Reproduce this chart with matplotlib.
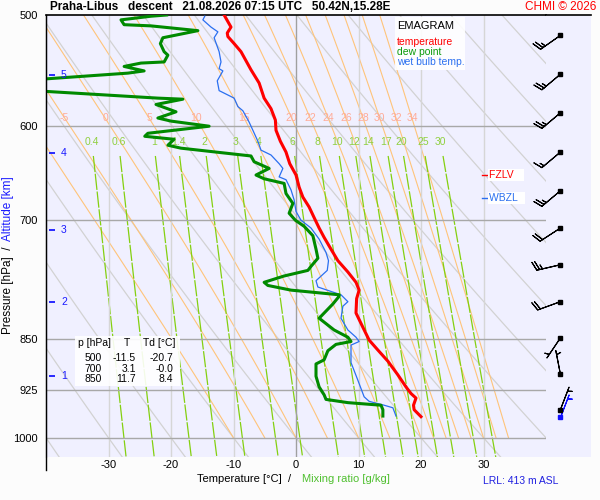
import numpy as np
import matplotlib.pyplot as plt
from matplotlib.patches import Rectangle
from matplotlib.lines import Line2D

plt.rcParams['font.family'] = ['Liberation Sans', 'DejaVu Sans']
plt.rcParams['axes.unicode_minus'] = False

# sounding
t_p = [500, 510, 515, 518, 524, 531, 547, 559, 573, 583, 594, 604, 615, 626, 638, 650, 663, 674,
       685, 697, 709, 720, 734, 748, 762, 775, 785, 796, 815, 829, 852, 866, 882, 902, 920, 930,
       937, 948, 955, 966]
t_val = [-11.5, -10.4, -11.0, -10.9, -9.9, -8.8, -7.2, -5.9, -5.1, -4.0, -3.3, -3.2, -2.5, -1.6,
         -1.0, 0.0, 0.5, 1.1, 2.1, 2.9, 3.7, 4.5, 5.6, 6.7, 8.3, 9.6, 10.1, 9.7, 9.6, 10.4, 11.7,
         13.1, 14.7, 16.3, 17.6, 18.4, 19.2, 18.8, 18.9, 20.0]

td_p = [500, 501, 504, 508, 509, 513, 519, 524, 531, 534, 540, 541, 544, 548, 550, 555, 557, 565,
        567, 573, 574, 579, 586, 592, 595, 600, 607, 610, 613, 619, 622, 630, 636, 643, 650, 654,
        659, 670, 681, 692, 700, 707, 718, 734, 745, 755, 760, 767, 775, 779, 785, 791, 793, 803,
        822, 838, 848, 854, 858, 867, 880, 886, 904, 920, 932, 939, 944, 948, 955, 965]
td_val = [-20.7, -23.2, -28.0, -27.5, -23.2, -15.7, -21.3, -21.7, -21.1, -20.5, -21.1, -24.8,
          -27.5, -24.3, -26.9, -39.5, -45.0, -45.0, -39.2, -22.1, -18.1, -22.4, -19.2, -22.1,
          -20.0, -13.9, -23.7, -24.2, -19.5, -20.5, -18.4, -7.2, -6.7, -4.3, -6.4, -5.1, -1.9,
          -1.6, -0.5, -1.1, -0.1, 1.3, 2.7, 3.2, 3.5, 2.4, 1.9, -1.9, -5.1, -4.5, -0.8, 6.9, 6.9,
          5.9, 3.7, 6.1, 8.3, 8.8, 6.4, 5.1, 4.5, 3.2, 3.2, 3.7, 4.5, 4.8, 8.3, 13.6, 13.9, 13.9]

tw_p = [501, 504, 510, 514, 519, 531, 540, 546, 548, 557, 566, 573, 581, 585, 596, 604, 615, 624,
        629, 638, 643, 652, 655, 666, 677, 690, 700, 709, 722, 738, 748, 760, 773, 781, 791, 800,
        806, 822, 838, 848, 854, 859, 884, 910, 935, 942, 948, 952, 965]
tw_val = [-14.6, -14.9, -13.6, -12.5, -13.1, -12.3, -12.0, -12.3, -11.7, -12.6, -12.3, -9.9, -9.3,
          -8.5, -7.5, -6.9, -6.1, -5.6, -4.0, -2.7, -2.1, -2.7, -1.6, -0.8, -0.3, 0.0, 0.8, 2.4,
          3.7, 4.8, 5.2, 5.0, 3.2, 3.5, 7.2, 8.3, 7.5, 7.2, 8.3, 9.6, 10.1, 8.8, 8.8, 9.9, 10.9,
          11.7, 14.1, 15.5, 16.0]

# wind (direction from, speed)
wind_p = [517, 551, 587, 626, 667, 709, 753, 800, 849, 901, 955]
wind_dir = [235, 230, 230, 230, 230, 237, 257, 250, 214, 349, 21]
wind_spd = [25, 25, 25, 15, 25, 20, 25, 20, 5, 5, 5]
sfc_p, sfc_dir, sfc_spd = 966, 21, 5

tab_p = [500, 700, 850]
tab_t = [-11.5, 3.1, 11.7]
tab_td = [-20.7, -0.0, 8.4]

alt_km = [1, 2, 3, 4, 5]
alt_p = [904, 801, 711, 627, 552]

fzlv_p = 650
wbzl_p = 675

p_grid = [600, 700, 850, 925, 1000]
theta_dry = np.arange(-40, 120, 10)
theta_w = [-10, -5, 0, 5, 10, 15, 20, 22, 24, 26, 28, 30, 32, 34]
mix_w = [0.4, 0.6, 1, 1.4, 2, 3, 4, 6, 8, 10, 12, 14, 17, 20, 25, 30]


def sat_vp(tk):
    return 6.112 * np.exp(17.67 * (tk - 273.15) / (tk - 29.65))


def moist_slope(tk, p):
    e = sat_vp(tk)
    rs = 0.622 * e / (p - e)
    return (287.04 * tk + 2.501e6 * rs) / (1005.7 + 2.501e6**2 * rs * 0.622 / (287.04 * tk * tk)) / p


def moist_adiabats(tw, pl):
    tk = np.array(tw, dtype=float) + 273.15
    out = [tk]
    for p0, p1 in zip(pl[:-1], pl[1:]):
        h = p1 - p0
        k1 = moist_slope(tk, p0)
        k2 = moist_slope(tk + h * k1 / 2, p0 + h / 2)
        k3 = moist_slope(tk + h * k2 / 2, p0 + h / 2)
        k4 = moist_slope(tk + h * k3, p1)
        tk = tk + h * (k1 + 2 * k2 + 2 * k3 + k4) / 6
        out.append(tk)
    return np.array(out) - 273.15


def mixing_t(w, p):
    e = w * p / (622.0 + w)
    a = np.log(e / 6.112)
    return 243.5 * a / (17.67 - a)


W, H = 600, 500


def box(x0, y0, x1, y1):
    return [x0 / W, 1 - y1 / H, (x1 - x0) / W, (y1 - y0) / H]


def fx(px):
    return px / W


def fy(py):
    return 1 - py / H


bg = '#f0f0ff'
fig = plt.figure(figsize=(6, 5), dpi=100, facecolor='#fcfcfc')
ax = fig.add_axes(box(46, 15, 546, 457))
axb = fig.add_axes(box(546, 15, 591, 457), sharey=ax)
for a in (ax, axb):
    a.set_facecolor(bg)
    for s in a.spines.values():
        s.set_visible(False)
    a.spines['top'].set_visible(True)
    a.spines['top'].set_linewidth(1.2)
ax.spines['left'].set_visible(True)

ax.set_yscale('log')
ax.set_ylim(1032, 500)
ax.set_xlim(-40, 40)
ax.set_yticks([500, 600, 700, 850, 925, 1000])
ax.set_yticklabels(['500', '600', '700', '850', '925', '1000'])
ax.yaxis.set_minor_locator(plt.NullLocator())
ax.set_xticks([-30, -20, -10, 0, 10, 20, 30])
ax.tick_params(axis='y', length=0, pad=6, labelsize=8)
ax.tick_params(axis='x', length=0, pad=2, labelsize=8)
axb.tick_params(left=False, labelleft=False, bottom=False, labelbottom=False)
axb.set_xlim(0, 1)

# isotherms and isobars
for t in [-30, -20, -10, 10, 20, 30]:
    ax.axvline(t, color='#d6d6d6', lw=1, zorder=1.5)
ax.axvline(0, color='#a0a0a0', lw=1, zorder=1.5)
ax.hlines(p_grid, -40, 40, color='#a8a8a8', lw=1, zorder=1.5)

# dry adiabats
pd_ = np.linspace(500, 1032, 120)
for th in theta_dry:
    ax.plot((th + 273.15) * (pd_ / 1000) ** 0.2857 - 273.15, pd_, color='#d2d2d2', lw=0.9, zorder=1)

# moist adiabats
pm = np.linspace(1000, 500, 251)
tm = moist_adiabats(theta_w, pm)
for i, tw in enumerate(theta_w):
    ax.plot(tm[:, i], pm, color='#ffc47a', lw=0.8, zorder=1.1)
    if tw >= -5:
        tl = np.interp(592, pm[::-1], tm[::-1, i])
        ax.text(tl, 592, str(tw), color='#ffab98', fontsize=7.5, ha='center', va='center', zorder=2)

# mixing ratio lines
pw = np.linspace(630, 1032, 60)
for w in mix_w:
    ax.plot(mixing_t(w, pw), pw, color='#84d010', lw=0.9, ls=(0, (13, 1.3)), zorder=1.2)
    ax.text(mixing_t(w, 616), 616, f'{w:g}', color='#90d040', fontsize=7.5, ha='center',
            va='center', zorder=2)

# profiles
ax.plot(tw_val, tw_p, color='#2a6ff0', lw=0.9, zorder=3)
ax.plot(td_val, td_p, color='#008a00', lw=2.2, zorder=3.1)
ax.plot(t_val, t_p, color='#ff0000', lw=2.2, zorder=3.2)

# altitude marks
ax.plot(np.full(len(alt_p), -39.0), alt_p, ls='none', marker='_', ms=5, mew=1.3, color='#1a1aff',
        zorder=4, clip_on=False)
for km, p in zip(alt_km, alt_p):
    ax.text(-37.6, p, str(km), color='#1a1aff', fontsize=7.5, va='center', ha='left', zorder=4)

# freezing levels
ax.plot([29.8, 30.8], [fzlv_p, fzlv_p], color='red', lw=1, zorder=4)
ax.text(30.9, fzlv_p, 'FZLV   ', color='red', fontsize=7.5, va='center', ha='left', zorder=4,
        bbox=dict(facecolor='white', edgecolor='none', pad=1))
ax.plot([29.8, 30.8], [wbzl_p, wbzl_p], color='#2a6ff0', lw=1, zorder=4)
ax.text(30.9, wbzl_p, 'WBZL  ', color='#2a6ff0', fontsize=7.5, va='center', ha='left', zorder=4,
        bbox=dict(facecolor='white', edgecolor='none', pad=1))

# legend box
ax.add_patch(Rectangle((0.698, 0.876), 0.14, 0.12, transform=ax.transAxes, facecolor='white',
                       edgecolor='none', alpha=0.9, zorder=5))
fig.text(fx(397), fy(26), 'EMAGRAM', fontsize=8, va='center', zorder=6)
fig.text(fx(397), fy(42), 'temperature', fontsize=7.5, color='red', va='center')
fig.text(fx(397), fy(52), 'dew point', fontsize=7.5, color='#0a9a0a', va='center')
fig.text(fx(397), fy(62), 'wet bulb temp.', fontsize=7.5, color='#2a6ff0', va='center')

# table box
ax.add_patch(Rectangle((0.058, 0.1606), 0.21, 0.1132, transform=ax.transAxes, facecolor='white',
                       edgecolor='none', alpha=0.9, zorder=5))
fig.text(fx(78), fy(343), 'p [hPa]', fontsize=7.5, va='center')
fig.text(fx(127), fy(343), 'T', fontsize=7.5, va='center', ha='center')
fig.text(fx(143), fy(343), 'Td [°C]', fontsize=7.5, va='center')
for i, (p, t, td) in enumerate(zip(tab_p, tab_t, tab_td)):
    yy = fy(358 + 10.5 * i)
    fig.text(fx(102), yy, str(p), fontsize=7.5, va='center', ha='right')
    fig.text(fx(136), yy, f'{t:.1f}', fontsize=7.5, va='center', ha='right')
    fig.text(fx(173), yy, f'{td:.1f}', fontsize=7.5, va='center', ha='right')

# wind barbs
bx = 0.32
blen = 5.9
bsz = dict(spacing=0.12, height=0.36)
wd = np.radians(wind_dir)
u = -np.array(wind_spd) * np.sin(wd)
v = -np.array(wind_spd) * np.cos(wd)
axb.barbs(np.full(len(wind_p), bx), wind_p, u, v, length=blen, sizes=bsz, lw=0.8, color='black',
          zorder=3, clip_on=False)
axb.plot(np.full(len(wind_p), bx), wind_p, 's', ms=2.3, color='black', zorder=4)
sd = np.radians(sfc_dir)
axb.barbs([bx], [sfc_p], [-sfc_spd * np.sin(sd)], [-sfc_spd * np.cos(sd)], length=blen, sizes=bsz,
          lw=0.8, color='#1010ff', zorder=3, clip_on=False)
axb.plot([bx], [sfc_p], 's', ms=2.3, color='#1010ff', zorder=4)

# left axis line running a bit below the plot
fig.add_artist(Line2D([fx(46), fx(46)], [fy(15), fy(470)], color='black', lw=1))

# titles and labels
fig.text(fx(50), fy(6.5), 'Praha-Libus   descent   21.08.2026 07:15 UTC   50.42N,15.28E',
         fontsize=8.5, fontweight='bold', va='center')
fig.text(fx(596), fy(6.5), 'CHMI © 2026', fontsize=8.5, color='red', va='center', ha='right')
fig.text(fx(8), fy(246), 'Pressure [hPa]  /', fontsize=8.5, rotation=90, ha='center', va='top')
fig.text(fx(8), fy(241), 'Altitude [km]', fontsize=8.5, rotation=90, ha='center', va='bottom',
         color='#1a1aff')
fig.text(fx(291), fy(479), 'Temperature [°C]  /', fontsize=8, ha='right', va='center')
fig.text(fx(302), fy(479), 'Mixing ratio [g/kg]', fontsize=8, ha='left', va='center',
         color='#50c030')
fig.text(fx(558), fy(481), 'LRL: 413 m ASL', fontsize=7.5, ha='right', va='center', color='#2020e0')

fig.savefig('out.png', dpi=100, facecolor=fig.get_facecolor())
